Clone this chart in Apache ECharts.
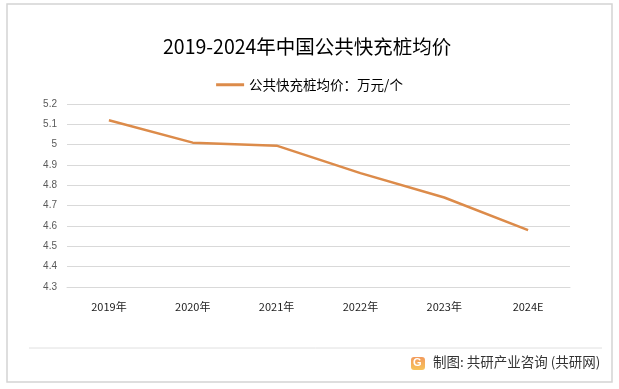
<!DOCTYPE html>
<html><head><meta charset="utf-8">
<script src="https://cdn.jsdelivr.net/npm/echarts@6/dist/echarts.min.js"></script>
<style>html,body{margin:0;padding:0;background:#fff}#c{width:619px;height:389px}</style>
</head><body><div id="c"></div>
<script>
const categories = ['2019年','2020年','2021年','2022年','2023年','2024E'];
const seriesName = '公共快充桩均价：万元/个';
const prices = [5.12, 5.01, 4.995, 4.86, 4.74, 4.58];
const titleText = '2019-2024年中国公共快充桩均价';
const footerText = '制图: 共研产业咨询 (共研网)';

const chart = echarts.init(document.getElementById('c'));
chart.setOption({
  animation: false,
  backgroundColor: '#fff',
  title: {
    text: titleText, left: 158, top: 32,
    textStyle: {fontSize: 19.5, fontWeight: 'normal', color: '#000', fontFamily: 'Noto Sans CJK SC'}
  },
  legend: {
    data: [seriesName], top: 73, left: 'center',
    itemWidth: 28, itemHeight: 3, itemGap: 3,
    icon: 'rect',
    textStyle: {fontSize: 13.5, color: '#000', fontFamily: 'Noto Sans CJK SC'}
  },
  grid: {left: 67, right: 49, top: 104, bottom: 102, containLabel: false},
  xAxis: {
    type: 'category', data: categories, boundaryGap: true,
    axisLine: {lineStyle: {color: '#d9d9d9'}},
    axisTick: {show: false},
    axisLabel: {
      margin: 14, fontSize: 11, color: '#222', fontFamily: 'Noto Sans CJK SC',
      formatter: v => v.endsWith('E') ? '{e|' + v + '}' : v,
      rich: {e: {fontSize: 11, color: '#222', padding: [0,0,12,0], fontFamily: 'Noto Sans CJK SC'}}
    }
  },
  yAxis: {
    type: 'value', min: 4.3, max: 5.2, interval: 0.1,
    axisLine: {show: false}, axisTick: {show: false},
    splitLine: {lineStyle: {color: '#d9d9d9'}},
    axisLabel: {
      margin: 10, fontSize: 10, color: '#595959', fontFamily: 'Liberation Sans',
      formatter: v => String(parseFloat(v.toFixed(1)))
    }
  },
  series: [{
    name: seriesName, type: 'line', data: prices,
    symbol: 'none', lineStyle: {color: '#dc8b4a', width: 2.5},
    itemStyle: {color: '#dc8b4a'}
  }],
  graphic: [
    {type: 'rect', shape: {x: 7, y: 4, width: 605, height: 378},
     style: {fill: 'none', stroke: '#d4d4d4', lineWidth: 1.5}, silent: true},
    {type: 'line', shape: {x1: 29, y1: 348, x2: 602, y2: 348},
     style: {stroke: '#e0e0e0', lineWidth: 1}},
    {type: 'rect', shape: {x: 411, y: 357, width: 14, height: 13, r: 3},
     style: {fill: new echarts.graphic.LinearGradient(0,0,0,1,[{offset:0,color:'#f29a5c'},{offset:1,color:'#f7c35a'}])}},
    {type: 'text', left: 413, top: 357,
     style: {text: 'G', fill: '#fff', font: 'bold 11px "Liberation Sans"'}},
    {type: 'text', left: 433, top: 355,
     style: {text: footerText, fill: '#333', font: '13.5px "Noto Sans CJK SC"'}}
  ]
});
</script></body></html>
